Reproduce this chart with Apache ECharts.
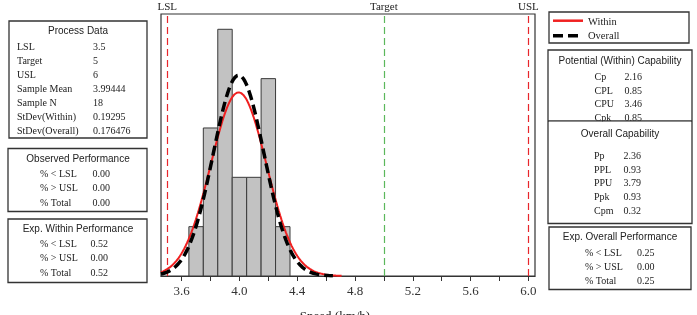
<!DOCTYPE html>
<html>
<head>
<meta charset="utf-8">
<script src="https://cdn.jsdelivr.net/npm/echarts@6/dist/echarts.min.js"></script>
<style>html,body{margin:0;padding:0;background:#fff;}#c{width:697px;height:315px;}</style>
</head>
<body>
<div id="c"></div>
<script>
// ---- data ----
const binStarts = [3.65, 3.75, 3.85, 3.95, 4.05, 4.15, 4.25];
const binEnds   = [3.75, 3.85, 3.95, 4.05, 4.15, 4.25, 4.35];
const binCounts = [1, 3, 5, 2, 2, 4, 1];
const specNames  = ['LSL', 'Target', 'USL'];
const specValues = [3.5, 5, 6];
const sampleMean = 3.99444;
const sampleN = 18;
const stdWithin = 0.19295;
const stdOverall = 0.176476;
const binWidth = 0.1;
const tickLabels = [3.6, 4.0, 4.4, 4.8, 5.2, 5.6, 6.0];
const tickMarks = [3.6, 3.8, 4.0, 4.2, 4.4, 4.6, 4.8, 5.0, 5.2, 5.4, 5.6, 5.8, 6.0];
const axisTitle = 'Speed (km/h)';

const processLabels = ['LSL', 'Target', 'USL', 'Sample Mean', 'Sample N', 'StDev(Within)', 'StDev(Overall)'];
const processValues = ['3.5', '5', '6', '3.99444', '18', '0.19295', '0.176476'];
const perfLabels = ['% < LSL', '% > USL', '% Total'];
const observedPerf = ['0.00', '0.00', '0.00'];
const expWithinPerf = ['0.52', '0.00', '0.52'];
const expOverallPerf = ['0.25', '0.00', '0.25'];
const potentialLabels = ['Cp', 'CPL', 'CPU', 'Cpk'];
const potentialValues = ['2.16', '0.85', '3.46', '0.85'];
const overallLabels = ['Pp', 'PPL', 'PPU', 'Ppk', 'Cpm'];
const overallValues = ['2.36', '0.93', '3.79', '0.93', '0.32'];

// ---- layout / styling ----
const xMin = 3.457, xMax = 6.046, yMax = 5.31;
const SERIF = '"Liberation Serif","Times New Roman",serif';
const SANS = '"Liberation Sans",Arial,sans-serif';

// fitted normal curves (from stated mean / stdev)
function normalCurve(mu, sd, span) {
  const pts = [];
  const a = Math.max(xMin, mu - span * sd), b = mu + span * sd;
  const scale = sampleN * binWidth;
  for (let x = a; x <= b + 1e-9; x += 0.005) {
    const z = (x - mu) / sd;
    pts.push([x, scale * Math.exp(-0.5 * z * z) / (sd * Math.sqrt(2 * Math.PI))]);
  }
  return pts;
}
const withinCurve = normalCurve(sampleMean, stdWithin, 3.7);
const overallCurve = normalCurve(sampleMean, stdOverall, 3.72);

const histData = binStarts.map((s, i) => [s, binEnds[i], binCounts[i]]);

// graphic helpers
const G = [];
function box(x, y, w, h) {
  G.push({type: 'rect', shape: {x, y, width: w, height: h}, style: {fill: '#fff', stroke: '#333', lineWidth: 1.3}, z: 1});
}
function txt(x, y, s, font, align, size) {
  G.push({type: 'text', x, y, style: {text: s, font: (size || 10) + 'px ' + font, fill: '#222', textAlign: align || 'left', textVerticalAlign: 'middle'}, z: 3});
}
function rows(labels, values, lx, vx, y0, dy) {
  labels.forEach((l, i) => { txt(lx, y0 + i * dy, l, SERIF); txt(vx, y0 + i * dy, values[i], SERIF); });
}

// Process data
box(9, 21, 138, 117);
txt(78, 31, 'Process Data', SANS, 'center');
rows(processLabels, processValues, 17, 93, 47, 14.1);
// Observed performance
box(8, 148.5, 139, 63);
txt(78, 159.5, 'Observed Performance', SANS, 'center');
rows(perfLabels, observedPerf, 40, 92.5, 174.5, 14.2);
// Exp within
box(8, 219, 139, 63.5);
txt(78, 229.5, 'Exp. Within Performance', SANS, 'center');
rows(perfLabels, expWithinPerf, 40, 90.5, 244.5, 14.2);

// Legend
box(549, 12, 140, 31);
G.push({type: 'line', shape: {x1: 553, y1: 20.7, x2: 583, y2: 20.7}, style: {stroke: '#f02020', lineWidth: 2.5}, z: 3});
G.push({type: 'line', shape: {x1: 553, y1: 35.7, x2: 583, y2: 35.7}, style: {stroke: '#000', lineWidth: 3.5, lineDash: [10, 5]}, z: 3});
txt(588, 22, 'Within', SERIF, 'left', 10.5);
txt(588, 36.5, 'Overall', SERIF, 'left', 10.5);

// Potential + overall capability
box(548, 50, 144, 173.5);
txt(620, 61, 'Potential (Within) Capability', SANS, 'center');
rows(potentialLabels, potentialValues, 594.5, 624.5, 77.5, 13.6);
G.push({type: 'line', shape: {x1: 548, y1: 121, x2: 692, y2: 121}, style: {stroke: '#333', lineWidth: 1.3}, z: 4});
G.push({type: 'rect', shape: {x: 549, y: 121.7, width: 142, height: 3}, style: {fill: '#fff'}, z: 4});
txt(620, 134, 'Overall Capability', SANS, 'center');
rows(overallLabels, overallValues, 594, 623.5, 156, 13.9);

// Exp overall
box(549, 227, 142, 62.5);
txt(620, 237, 'Exp. Overall Performance', SANS, 'center');
rows(perfLabels, expOverallPerf, 585, 637, 253.5, 14);

// axis title (partly cut off at bottom)
G.push({type: 'text', x: 335, y: 310, style: {text: axisTitle, font: '13px ' + SERIF, fill: '#222', textAlign: 'center', textVerticalAlign: 'top'}, z: 3});

const chart = echarts.init(document.getElementById('c'), null, {renderer: 'canvas'});
chart.setOption({
  animation: false,
  backgroundColor: '#fff',
  grid: {left: 161, top: 14, width: 374, height: 262, show: true, borderColor: '#333', borderWidth: 1.2, backgroundColor: 'transparent'},
  xAxis: {
    type: 'value', min: xMin, max: xMax,
    axisLine: {show: true, lineStyle: {color: '#333', width: 1.2}},
    axisTick: {show: true, length: 5, customValues: tickMarks, lineStyle: {color: '#333'}},
    axisLabel: {customValues: tickLabels, formatter: v => v.toFixed(1), fontFamily: SERIF, fontSize: 13, color: '#333', margin: 9},
    splitLine: {show: false}
  },
  yAxis: {type: 'value', min: 0, max: yMax, show: false, splitLine: {show: false}},
  graphic: G,
  series: [
    {
      type: 'custom', data: histData, encode: {x: [0, 1], y: 2}, z: 2,
      renderItem: function (params, api) {
        const p0 = api.coord([api.value(0), api.value(2)]);
        const p1 = api.coord([api.value(1), 0]);
        return {type: 'rect', shape: {x: p0[0], y: p0[1], width: p1[0] - p0[0], height: p1[1] - p0[1]},
          style: {fill: '#c2c2c2', stroke: '#3a3a3a', lineWidth: 1}};
      }
    },
    {
      type: 'line', data: [], z: 3,
      markLine: {
        silent: true, symbol: 'none',
        label: {show: true, position: 'end', formatter: '{b}', fontFamily: SERIF, fontSize: 11, color: '#222', distance: 1},
        data: specNames.map((n, i) => ({
          name: n, xAxis: specValues[i],
          lineStyle: {type: [7, 4], width: 1.2, color: n === 'Target' ? '#5cb85c' : '#e8262b'}
        }))
      }
    },
    {type: 'line', data: withinCurve, showSymbol: false, z: 4, clip: true, lineStyle: {color: '#f02020', width: 2}},
    {type: 'line', data: overallCurve, showSymbol: false, z: 5, clip: true, lineStyle: {color: '#000', width: 3.5, type: [10, 5]}}
  ]
});
</script>
</body>
</html>
